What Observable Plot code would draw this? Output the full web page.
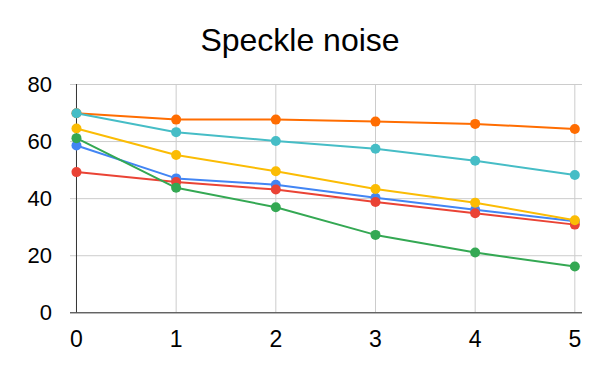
<!DOCTYPE html>
<html>
<head>
<meta charset="utf-8">
<script src="https://cdn.jsdelivr.net/npm/d3@7"></script>
<script src="https://cdn.jsdelivr.net/npm/@observablehq/plot@0.6"></script>
<style>
  html, body { margin: 0; padding: 0; background: #fff; }
  #wrap { width: 600px; height: 371px; overflow: hidden; }
  #title {
    box-sizing: border-box; height: 60px; padding-top: 23.6px;
    font: 32px "Liberation Sans", Arial, sans-serif; line-height: 32px;
    text-align: center; color: #000; white-space: nowrap;
  }
  svg { display: block; }
</style>
</head>
<body>
<div id="wrap">
  <div id="title">Speckle noise</div>
  <div id="chart"></div>
</div>
<script>
const xs = [0, 1, 2, 3, 4, 5];
const seriesNames = ["s1", "s2", "s3", "s4", "s5", "s6"];
const seriesColors = ["#4285F4", "#EA4335", "#FBBC04", "#34A853", "#FF6D01", "#46BDC6"];
const s1 = [58.6, 47.1, 44.9, 40.3, 36.1, 32.1];
const s2 = [49.3, 45.8, 43.2, 38.8, 34.9, 30.9];
const s3 = [64.6, 55.3, 49.6, 43.4, 38.6, 32.4];
const s4 = [61.2, 43.8, 37.0, 27.3, 21.1, 16.2];
const s5 = [69.9, 67.7, 67.7, 67.0, 66.2, 64.4];
const s6 = [69.9, 63.3, 60.2, 57.5, 53.3, 48.3];
const yTicks = [0, 20, 40, 60, 80];

const allSeries = [s1, s2, s3, s4, s5, s6];
const seriesMarks = [];
allSeries.forEach((vals, i) => {
  const rows = xs.map((x, j) => ({x, y: vals[j], series: seriesNames[i]}));
  seriesMarks.push(Plot.line(rows, {x: "x", y: "y", stroke: "series", strokeWidth: 2}));
  seriesMarks.push(Plot.dot(rows, {x: "x", y: "y", fill: "series", r: 5}));
});

const chart = Plot.plot({
  width: 600,
  height: 311,
  marginLeft: 70,
  marginRight: 18,
  marginTop: 24,
  marginBottom: 58.7,
  style: {fontFamily: "'Liberation Sans', Arial, sans-serif", color: "#000", background: "#fff"},
  x: {domain: [-0.06, 5.077], ticks: xs},
  y: {domain: [0, 80], ticks: yTicks},
  color: {domain: seriesNames, range: seriesColors},
  marks: [
    Plot.gridY(yTicks, {stroke: "#cccccc", strokeOpacity: 1, strokeWidth: 1}),
    Plot.gridX(xs.filter(d => d !== 0), {stroke: "#cccccc", strokeOpacity: 1, strokeWidth: 1}),
    Plot.axisY(yTicks, {tickSize: 0, tickPadding: 18.5, fontSize: 22, fill: "#000", label: null}),
    Plot.axisX(xs, {tickSize: 0, tickPadding: 17.7, fontSize: 23, fill: "#000", label: null, tickFormat: d => String(d)}),
    Plot.ruleX([0], {stroke: "#333", strokeWidth: 1}),
    Plot.ruleY([0], {stroke: "#333", strokeWidth: 1}),
    ...seriesMarks
  ]
});
document.getElementById("chart").appendChild(chart);
</script>
</body>
</html>
